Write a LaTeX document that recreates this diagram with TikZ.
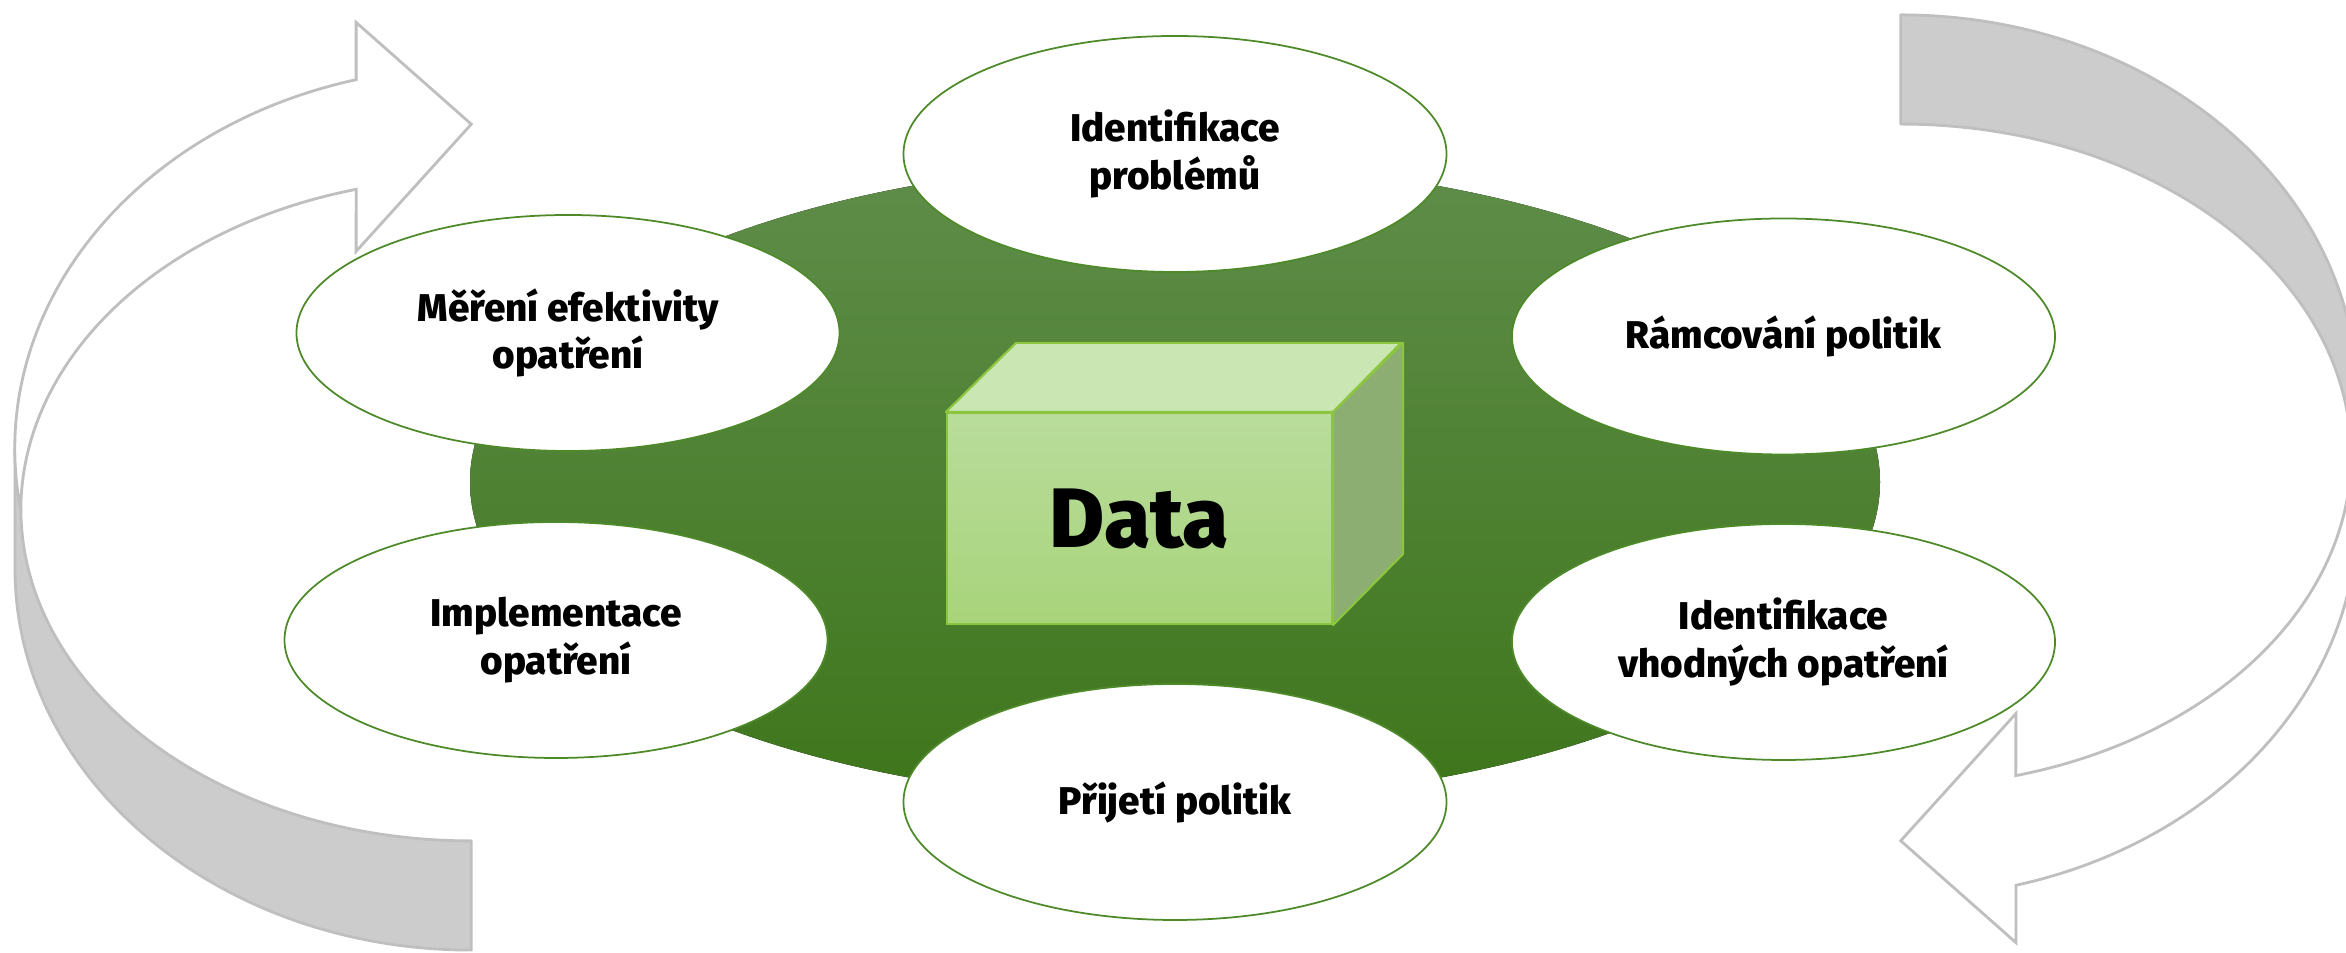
\documentclass[tikz,border=0pt]{standalone}
\usepackage{fontspec}
\setmainfont{Fira Sans}[BoldFont={Fira Sans ExtraBold}]
\usetikzlibrary{shapes.geometric}

\definecolor{zelenaHorni}{HTML}{5F8D4A}
\definecolor{zelenaDolni}{HTML}{3E761B}
\definecolor{zelenaLinka}{HTML}{4E8A2A}
\definecolor{sedaLinka}{HTML}{BFBFBF}
\definecolor{sedaPlocha}{HTML}{CCCCCC}
\definecolor{kvadrHorni}{HTML}{B9DC9B}
\definecolor{kvadrDolni}{HTML}{A8D47B}
\definecolor{kvadrVrch}{HTML}{C9E6B3}
\definecolor{kvadrBok}{HTML}{8DAE72}
\definecolor{kvadrLinka}{HTML}{8CC63F}

% one 3D circular arrow (the left one)
\newcommand{\kruhovaSipka}{%
    \filldraw [fill=sedaPlocha, draw=sedaLinka, line width=0.8pt, line join=round]
        (0.150, 5.041) -- (0.150, 3.844)
        arc [start angle=180, end angle=270, x radius=4.563, y radius=3.815]
        -- (4.713, 1.121)
        arc [start angle=270, end angle=180, x radius=4.504, y radius=3.322]
        arc [start angle=189.3, end angle=180, x radius=4.563, y radius=3.815]
        -- cycle;
    \filldraw [fill=white, draw=sedaLinka, line width=0.8pt, line join=miter]
        (3.561, 8.733)
        arc [start angle=104.6, end angle=189.3, x radius=4.563, y radius=3.815]
        arc [start angle=180, end angle=104.8, x radius=4.504, y radius=3.322]
        -- (3.561, 7.016) -- (4.713, 8.288) -- (3.561, 9.306) -- cycle;
}

\tikzset{
    krok/.style={ellipse, draw=zelenaLinka, line width=0.5pt, fill=white,
        minimum width=5.43cm, minimum height=2.36cm, inner sep=0pt,
        align=center, font=\fontsize{11}{13.6}\selectfont\bfseries},
    kvadr/.style={draw=kvadrLinka, line width=0.6pt,
        top color=kvadrHorni, bottom color=kvadrDolni,
        minimum width=3.85cm, minimum height=2.11cm, inner sep=0pt,
        font=\fontsize{24}{28}\selectfont\bfseries}
}

\begin{document}
\begin{tikzpicture}
    \useasboundingbox (0, 0) rectangle (23.46, 9.53);

    % green background
    \fill [top color=zelenaHorni, bottom color=zelenaDolni] (11.75, 4.71) ellipse [x radius=7.05, y radius=3.19];

    % arrows
    \begin{scope}
        \kruhovaSipka
    \end{scope}
    \begin{scope}[rotate around={180:(11.86, 4.705)}]
        \kruhovaSipka
    \end{scope}

    % box
    \node [kvadr] (data) at (11.395, 4.345) {Data};
    \filldraw [fill=kvadrVrch, draw=kvadrLinka, line width=0.6pt, line join=round]
        (data.north west) -- ++(0.70, 0.69) -- ++(3.85, 0) -- (data.north east) -- cycle;
    \filldraw [fill=kvadrBok, draw=kvadrLinka, line width=0.6pt, line join=round]
        (data.north east) -- ++(0.70, 0.69) -- ++(0, -2.11) -- (data.south east) -- cycle;

    % steps
    \node [krok] (problemy) at (11.75, 7.99) {Identifikace\\problémů};
    \node [krok] (ramcovani) at (17.835, 6.165) {Rámcování politik};
    \node [krok] (vhodna) at (17.835, 3.11) {Identifikace\\vhodných opatření};
    \node [krok] (prijeti) at (11.75, 1.51) {Přijetí politik};
    \node [krok] (implementace) at (5.56, 3.13) {Implementace\\opatření};
    \node [krok] (mereni) at (5.68, 6.20) {Měření efektivity\\opatření};
\end{tikzpicture}
\end{document}
